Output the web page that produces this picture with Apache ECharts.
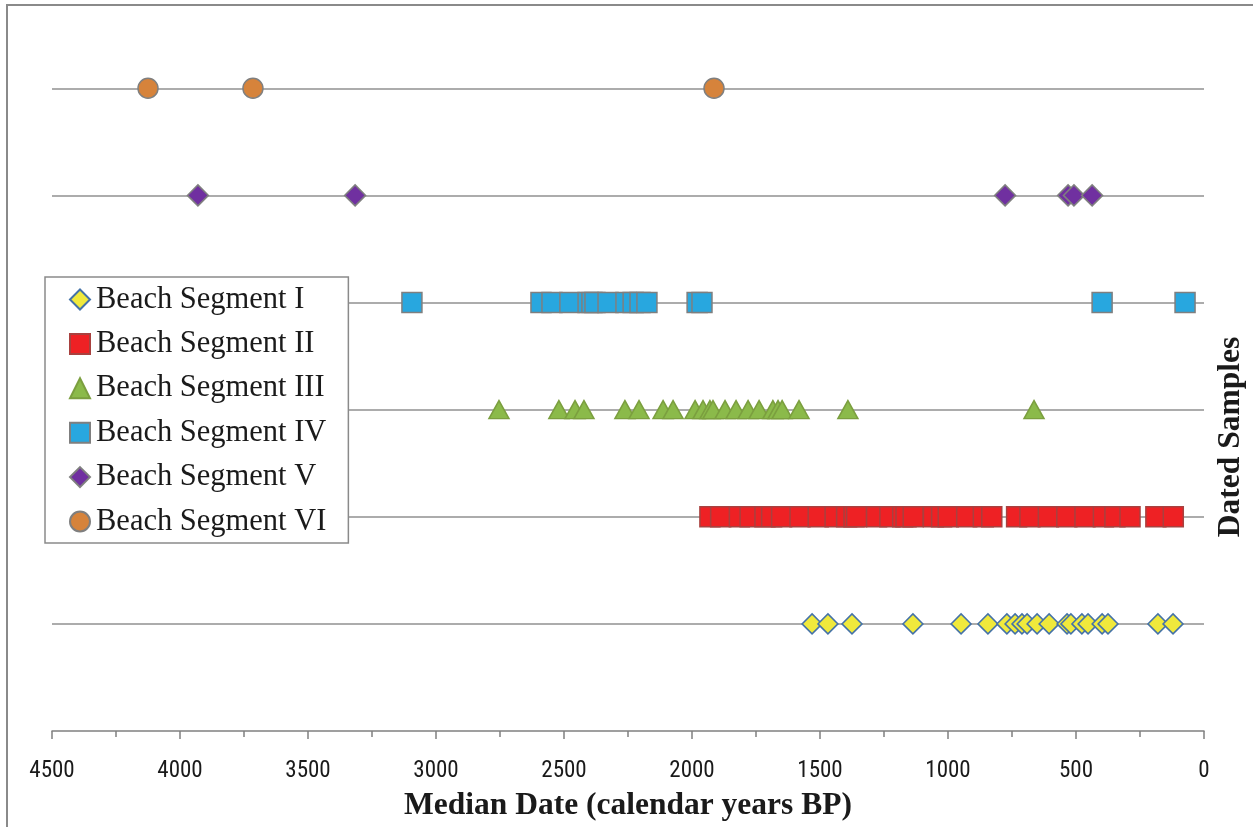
<!DOCTYPE html>
<html>
<head>
<meta charset="utf-8">
<script src="https://cdn.jsdelivr.net/npm/echarts@6/dist/echarts.min.js"></script>
<style>
html,body{margin:0;padding:0;background:#fff;}
#chart{width:1253px;height:827px;}
</style>
</head>
<body>
<div id="chart"></div>
<script>
// Median dates (calendar years BP) per beach segment
const segmentNames = ['Beach Segment I','Beach Segment II','Beach Segment III','Beach Segment IV','Beach Segment V','Beach Segment VI'];
const segI   = [1531,1469,1375,1137,949,844,770,738,711,691,652,605,535,520,477,453,398,375,180,121];
const segII  = [1930,1888,1815,1773,1715,1689,1650,1578,1507,1441,1396,1367,1357,1279,1227,1177,1164,1136,1057,1025,999,927,862,829,732,680,608,536,465,393,348,289,188,120];
const segIII = [2754,2520,2457,2422,2262,2207,2113,2074,1988,1957,1930,1918,1871,1828,1781,1738,1684,1664,1648,1582,1391,664];
const segIV  = [3094,2590,2547,2477,2406,2391,2379,2328,2258,2230,2203,2176,1980,1961,398,74];
const segV   = [3930,3316,777,531,508,437];
const segVI  = [4125,3715,1914];
const xTicks = [0,500,1000,1500,2000,2500,3000,3500,4000,4500];

const allSegs = [segI,segII,segIII,segIV,segV,segVI];
const symbols = ['diamond','rect','triangle','rect','diamond','circle'];
const sizes = [[20,20],[20,20],[20,18],[20,20],[21,21],[20,20]];
const fills = ['#F0E93C','#EE2124','#8BBA4A','#28A7DF','#7030A0','#D6833B'];
const borders = ['#4472A8','#A8413F','#7B9F3F','#7F7F7F','#7F7F7F','#7F7F7F'];

const series = allSegs.map((vals, i) => ({
  name: segmentNames[i],
  type: 'scatter',
  symbol: symbols[i],
  symbolSize: sizes[i],
  itemStyle: { color: fills[i], borderColor: borders[i], borderWidth: 1.5, opacity: 1 },
  data: vals.map(v => [v, i + 1]),
  z: 3
}));

const serif = '"Liberation Serif", "Times New Roman", serif';
const chart = echarts.init(document.getElementById('chart'), null, {renderer:'canvas'});
chart.setOption({
  animation: false,
  backgroundColor: '#fff',
  graphic: [
    { type: 'rect', z: 100, silent: true,
      shape: { x: 7, y: 5, width: 1400, height: 1000 },
      style: { fill: 'none', stroke: '#8a8a8a', lineWidth: 2 } },
    { type: 'text', z: 100, x: 1231, y: 437, rotation: Math.PI / 2,
      style: { text: 'Dated Samples', fill: '#1a1a1a',
        font: 'bold 31.5px "Liberation Serif", "Times New Roman", serif',
        align: 'center', verticalAlign: 'middle' } }
  ],
  grid: { left: 52, right: 49, top: 24, bottom: 90, containLabel: false },
  legend: {
    orient: 'vertical', left: 45, top: 277,
    padding: [7, 22, 6, 24],
    itemGap: 13.4, itemWidth: 20, itemHeight: 20,
    backgroundColor: '#fff', borderColor: '#8a8a8a', borderWidth: 1.5,
    textStyle: { fontFamily: serif, fontSize: 30.5, lineHeight: 30, color: '#1a1a1a', padding: [0,0,0,1] },
    data: segmentNames
  },
  xAxis: {
    type: 'value', inverse: true, min: 0, max: 4500, interval: 500,
    name: 'Median Date (calendar years BP)', nameLocation: 'middle', nameGap: 59,
    nameTextStyle: { fontFamily: serif, fontWeight: 'bold', fontSize: 31.5, color: '#1a1a1a' },
    axisLine: { show: true, onZero: false, lineStyle: { color: '#808080', width: 1.5 } },
    axisTick: { show: true, inside: false, length: 8, lineStyle: { color: '#808080', width: 1.5 } },
    minorTick: { show: true, splitNumber: 2, length: 6, lineStyle: { color: '#808080', width: 1.5 } },
    axisLabel: { margin: 29, fontSize: 23, color: '#1a1a1a', fontFamily: '"Liberation Sans Narrow", "Roboto Condensed", "Liberation Sans", sans-serif',
      formatter: v => (xTicks.indexOf(v) >= 0 ? String(v) : '') },
    splitLine: { show: false }
  },
  yAxis: {
    type: 'value', min: 0, max: 6.6, interval: 1, position: 'right',
    axisLine: { show: false }, axisTick: { show: false }, axisLabel: { show: false },
    splitLine: { show: true, showMinLine: false, showMaxLine: false, lineStyle: { color: '#909090', width: 1.5 } }
  },
  series: series
});
</script>
</body>
</html>
